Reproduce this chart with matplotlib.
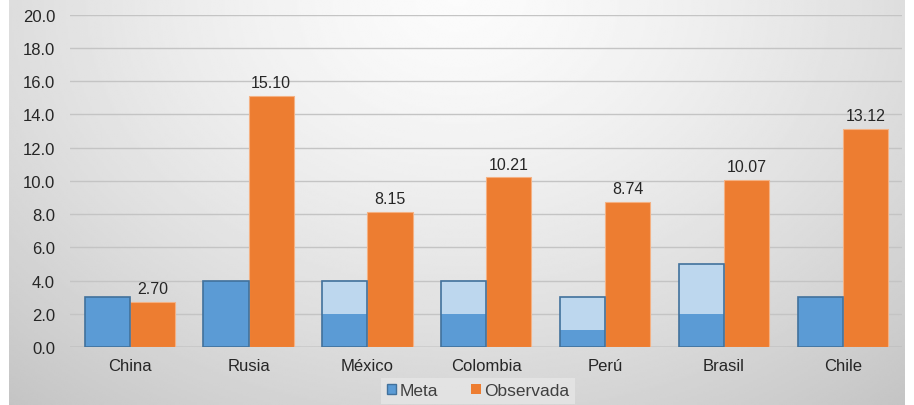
import matplotlib.pyplot as plt
import numpy as np
from matplotlib.patches import Patch

plt.rcParams["font.family"] = ["Liberation Sans", "DejaVu Sans"]

# Inflation targets (meta) and observed inflation by country
paises = ["China", "Rusia", "México", "Colombia", "Perú", "Brasil", "Chile"]
meta_inferior = [3, 4, 2, 2, 1, 2, 3]     # lower part of the target bar
meta_superior = [3, 4, 4, 4, 3, 5, 3]     # top of the target range
observada = [2.70, 15.10, 8.15, 10.21, 8.74, 10.07, 13.12]

azul = "#5B9BD5"
azul_claro = "#BDD7EE"
borde_azul = "#41719C"
naranja = "#ED7D31"

fig = plt.figure(figsize=(9.14, 4.06), dpi=100)

# gradient background panel
bg = fig.add_axes([0.010, 0.0, 0.980, 1.0])
h, w = 200, 450
yy, xx = np.mgrid[0:h, 0:w]
dist = np.sqrt(((xx - w * 0.5) / (w * 0.65)) ** 2 + (yy / (h * 1.1)) ** 2)
shade = 0.985 - 0.17 * np.clip(dist, 0, 1.2) ** 1.4
bg.imshow(shade, cmap="gray", vmin=0, vmax=1, aspect="auto", extent=[0, 1, 0, 1],
          origin="upper", interpolation="bilinear")
bg.set_axis_off()

ax = fig.add_axes([0.077, 0.143, 0.910, 0.818])
ax.patch.set_alpha(0)

x = np.arange(len(paises))
ancho = 0.38
inf = np.array(meta_inferior, dtype=float)
sup = np.array(meta_superior, dtype=float)

# target bars: darker lower block, lighter range on top, one outline around both
ax.bar(x - ancho / 2, inf, ancho, color=azul, edgecolor="none", zorder=3)
ax.bar(x - ancho / 2, sup - inf, ancho, bottom=inf, color=azul_claro, edgecolor="none", zorder=3)
ax.bar(x - ancho / 2, sup, ancho, color="none", edgecolor=borde_azul, linewidth=1.2, zorder=4)
ax.bar(x + ancho / 2, observada, ancho, color=naranja, edgecolor="#F4B183", linewidth=0.8, zorder=3)

for xi, v in zip(x, observada):
    ax.text(xi + ancho / 2, v + 0.35, f"{v:.2f}", ha="center", va="bottom",
            fontsize=11.5, color="#262626", zorder=5)

ax.set_ylim(0, 20)
ax.set_xlim(-0.5, len(paises) - 0.5)
ax.set_yticks(np.arange(0, 20.1, 2))
ax.set_yticklabels([f"{v:.1f}" for v in np.arange(0, 20.1, 2)])
ax.set_xticks(x)
ax.set_xticklabels(paises)
ax.tick_params(axis="both", length=0, labelsize=12, labelcolor="#262626")
ax.tick_params(axis="y", pad=11)
ax.tick_params(axis="x", pad=8)
ax.grid(axis="y", color="#C4C4C4", linewidth=1, zorder=0)
for s in ax.spines.values():
    s.set_visible(False)
ax.axhline(0, color="#A6A6A6", linewidth=1, zorder=2)

# legend entries
handles = [Patch(facecolor=azul, edgecolor=borde_azul, linewidth=1),
           Patch(facecolor=naranja, edgecolor="none")]
leg = fig.legend(handles, ["Meta", "Observada"], loc="lower center",
                 bbox_to_anchor=(0.523, -0.005), ncol=2, frameon=True, fontsize=12.5,
                 handlelength=0.55, handleheight=0.55, handletextpad=0.2, columnspacing=1.9,
                 borderpad=0.3, borderaxespad=0.2, fancybox=False)
leg.get_frame().set_facecolor("#E6E6E6")
leg.get_frame().set_edgecolor("none")
leg.get_frame().set_alpha(0.8)
for t in leg.get_texts():
    t.set_color("#404040")

fig.savefig("out.png", dpi=100, facecolor="white")
